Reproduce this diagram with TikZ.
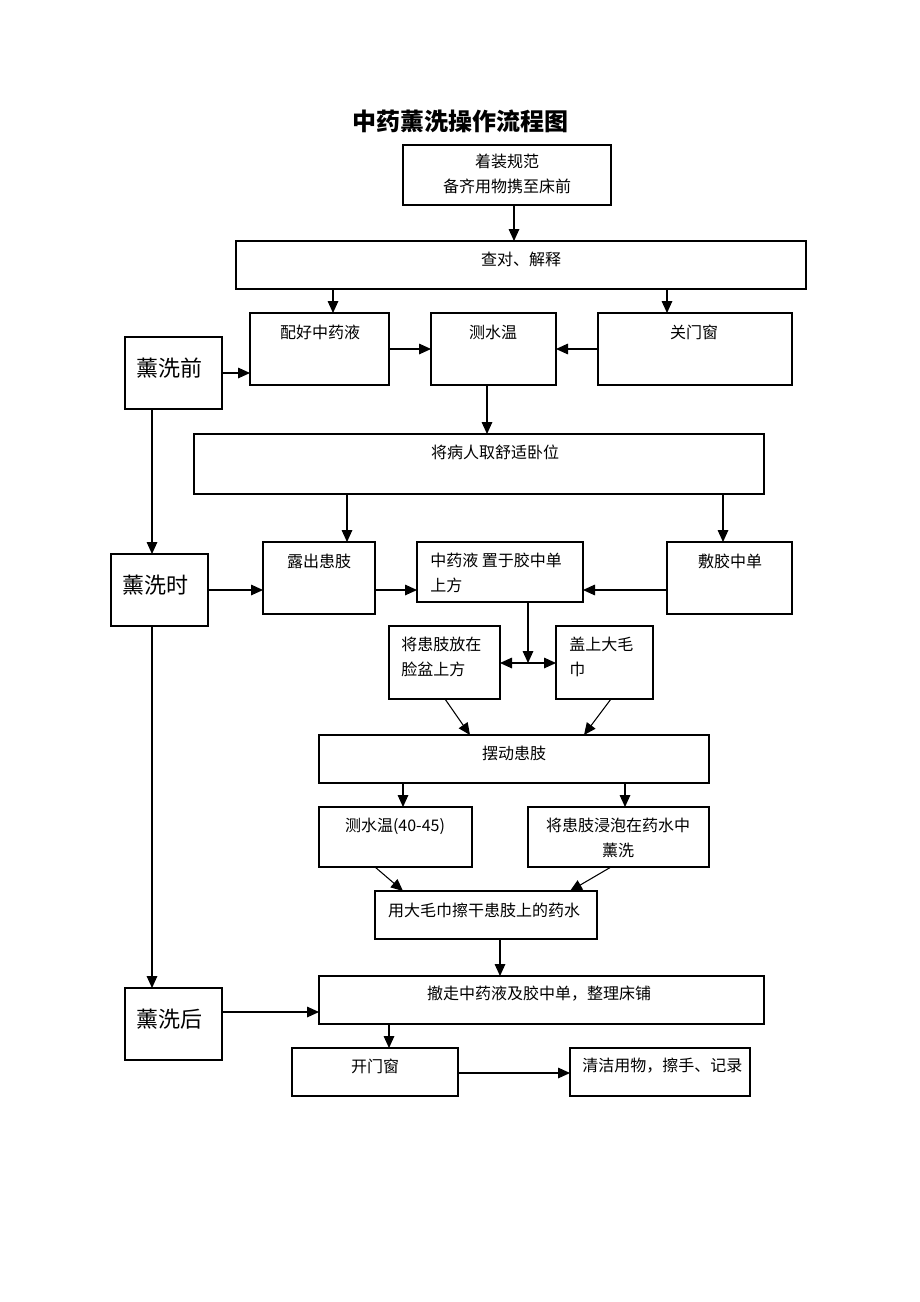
\documentclass[tikz,border=0pt]{standalone}
\usepackage{fontspec}
\setmainfont{Noto Sans CJK SC}
\usetikzlibrary{arrows.meta}
\tikzset{
  box/.style={draw,line width=0.8pt,inner sep=0pt,outer sep=0pt,rectangle},
  txt/.style={inner sep=0pt,font=\fontsize{12}{18.75}\selectfont,align=center},
  ltxt/.style={txt,align=left,anchor=west},
  big/.style={inner sep=0pt,font=\fontsize{16.5}{18}\selectfont},
  arr/.style={line width=0.8pt,-{Triangle[length=9pt,width=8pt]}},
  darr/.style={line width=0.8pt,{Triangle[length=9pt,width=8pt]}-{Triangle[length=9pt,width=8pt]}}
}
\newcommand{\bx}[5]{\node[box,minimum width={(#4-#2)*0.75pt},minimum height={(#5-#3)*0.75pt}] (#1) at ({(#2+#4)/2},{(#3+#5)/2}) {};}
\begin{document}
\begin{tikzpicture}[x=0.75pt,y=-0.75pt]
\fill[white] (0,0) rectangle (920,1302);
\useasboundingbox (0,0) rectangle (920,1302);
\node[inner sep=0pt,font=\fontsize{18}{20}\selectfont\bfseries] (title) at (460,121) {中药薰洗操作流程图};
% boxes
\bx{A}{403}{145}{611}{205}
\bx{B}{236}{241}{806}{289}
\bx{C}{250}{313}{389}{385}
\bx{D}{431}{313}{556}{385}
\bx{E}{598}{313}{792}{385}
\bx{F}{125}{337}{222}{409}
\bx{G}{194}{434}{764}{494}
\bx{H}{111}{554}{208}{626}
\bx{I}{263}{542}{375}{614}
\bx{J}{417}{542}{583}{602}
\bx{K}{667}{542}{792}{614}
\bx{L}{389}{626}{500}{699}
\bx{M}{556}{626}{653}{699}
\bx{N}{319}{735}{709}{783}
\bx{O}{319}{807}{472}{867}
\bx{P}{528}{807}{709}{867}
\bx{Q}{375}{891}{597}{939}
\bx{S}{125}{988}{222}{1060}
\bx{R}{319}{976}{764}{1024}
\bx{T}{292}{1048}{458}{1096}
\bx{U}{570}{1048}{750}{1096}
% texts
\node[txt] (At) at (507,174) {着装规范\\备齐用物携至床前};
\node[txt] (Bt) at (521,259) {查对、解释};
\node[txt] (Ct) at (320,332) {配好中药液};
\node[txt] (Dt) at (493,332) {测水温};
\node[txt] (Et) at (694,332) {关门窗};
\node[big] (Ft) at (169,368) {薰洗前};
\node[txt] (Gt) at (495,452) {将病人取舒适卧位};
\node[big] (Ht) at (155,585) {薰洗时};
\node[txt] (It) at (319,561) {露出患肢};
\node[ltxt] (Jt) at (430,573) {中药液 置于胶中单\\上方};
\node[txt] (Kt) at (730,561) {敷胶中单};
\node[ltxt] (Lt) at (401,657) {将患肢放在\\脸盆上方};
\node[ltxt] (Mt) at (569,657) {盖上大毛\\巾};
\node[txt] (Nt) at (514,753) {摆动患肢};
\node[txt] (Ot) at (395,826) {测水温(40-45)};
\node[txt] (Pt) at (618,838) {将患肢浸泡在药水中\\薰洗};
\node[txt] (Qt) at (484,910) {用大毛巾擦干患肢上的药水};
\node[big] (St) at (169,1019) {薰洗后};
\node[txt] (Rt) at (539,994) {撤走中药液及胶中单，整理床铺};
\node[txt] (Tt) at (375,1066) {开门窗};
\begin{scope}
\clip (U.south west) rectangle (U.north east);
\node[ltxt] (Ut) at (582,1066) {清洁用物，擦手、记录};
\end{scope}
% connectors
\draw[arr] (A.south -| 514,0) -- (B.north -| 514,0);
\draw[arr] (B.south -| 333,0) -- (C.north -| 333,0);
\draw[arr] (B.south -| 667,0) -- (E.north -| 667,0);
\draw[arr] (F.east |- 0,373) -- (C.west |- 0,373);
\draw[arr] (C.east |- 0,349) -- (D.west |- 0,349);
\draw[arr] (E.west |- 0,349) -- (D.east |- 0,349);
\draw[arr] (D.south -| 487,0) -- (G.north -| 487,0);
\draw[arr] (F.south -| 152,0) -- (H.north -| 152,0);
\draw[arr] (G.south -| 347,0) -- (I.north -| 347,0);
\draw[arr] (G.south -| 723,0) -- (K.north -| 723,0);
\draw[arr] (H.east |- 0,590) -- (I.west |- 0,590);
\draw[arr] (I.east |- 0,590) -- (J.west |- 0,590);
\draw[arr] (K.west |- 0,590) -- (J.east |- 0,590);
\coordinate (jm) at (528,663);
\draw[arr] (J.south -| jm) -- (jm);
\draw[darr] (L.east |- jm) -- (M.west |- jm);
\draw[arr] (L.south -| 445,0) -- (N.north -| 470,0);
\draw[arr] (M.south -| 611,0) -- (N.north -| 584,0);
\draw[arr] (N.south -| 403,0) -- (O.north -| 403,0);
\draw[arr] (N.south -| 625,0) -- (P.north -| 625,0);
\draw[arr] (O.south -| 375,0) -- (Q.north -| 403,0);
\draw[arr] (P.south -| 611,0) -- (Q.north -| 570,0);
\draw[arr] (Q.south -| 500,0) -- (R.north -| 500,0);
\draw[arr] (H.south -| 152,0) -- (S.north -| 152,0);
\draw[arr] (S.east |- 0,1012) -- (R.west |- 0,1012);
\draw[arr] (R.south -| 389,0) -- (T.north -| 389,0);
\draw[arr] (T.east |- 0,1073) -- (U.west |- 0,1073);
\end{tikzpicture}
\end{document}
